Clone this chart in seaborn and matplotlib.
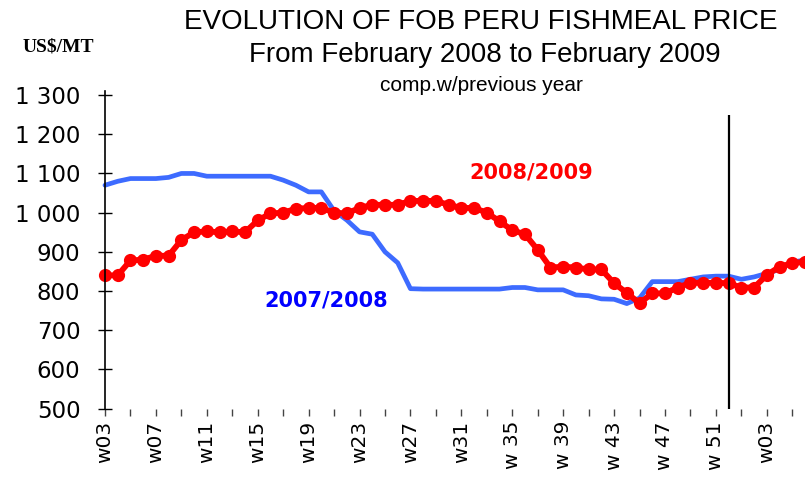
import numpy as np
import pandas as pd
import seaborn as sns
import matplotlib.pyplot as plt

# weekly categories: w03 2008 -> w06 2009
weeks = [f"w{n:02d}" for n in range(3, 53)] + [f"w{n:02d}" for n in range(1, 7)]

price_0809 = [840, 840, 878, 880, 890, 890, 930, 950, 952, 950,
              952, 950, 980, 998, 1000, 1010, 1012, 1012, 1000, 998,
              1012, 1020, 1020, 1020, 1030, 1030, 1030, 1020, 1012, 1012,
              1000, 978, 955, 945, 905, 860, 862, 860, 855, 855,
              820, 795, 769, 794, 794, 809, 821, 821, 821, 820,
              809, 809, 841, 862, 871, 875]

price_0708 = [1070, 1080, 1087, 1087, 1087, 1090, 1100, 1100, 1093, 1093,
              1093, 1093, 1093, 1093, 1083, 1070, 1053, 1053, 1005, 981,
              951, 945, 900, 872, 806, 805, 805, 805, 805, 805,
              805, 805, 809, 809, 803, 803, 803, 790, 788, 780,
              779, 768, 782, 824, 824, 824, 830, 836, 838, 838,
              830, 836, 845, 855, 874, 879]

x_labels = ["w03", "w07", "w11", "w15", "w19", "w23", "w27", "w31",
            "w 35", "w 39", "w 43", "w 47", "w 51", "w03"]
y_ticks = [500, 600, 700, 800, 900, 1000, 1100, 1200, 1300]
y_labels = ["500", "600", "700", "800", "900", "1 000", "1 100", "1 200", "1 300"]

df = pd.DataFrame({"pos": np.arange(len(weeks)), "week": weeks,
                   "2007/2008": price_0708, "2008/2009": price_0809})

sns.set_style("white")
plt.rcParams['font.family'] = ['DejaVu Sans']
plt.rcParams['text.color'] = 'black'
plt.rcParams['xtick.color'] = 'black'
plt.rcParams['ytick.color'] = 'black'

fig = plt.figure(figsize=(8.05, 4.96), dpi=100)
ax = fig.add_axes([0.1304, 0.1762, 0.8696, 0.640])

sns.lineplot(data=df, x="pos", y="2007/2008", color="#3D6BFF", lw=3.4, ax=ax,
             clip_on=False)
sns.lineplot(data=df, x="pos", y="2008/2009", color="#FF0000", lw=4.2, marker="o",
             markersize=9.5, markeredgewidth=0, ax=ax, clip_on=False)

# end of year marker
ax.vlines(weeks.index("w52") + 0.05, 500, 1250, colors="black", lw=1.6)

ax.set_xlim(0, len(weeks) - 1)
ax.set_ylim(500, 1310)
ax.set_xlabel("")
ax.set_ylabel("")

for s in ["top", "right", "bottom"]:
    ax.spines[s].set_visible(False)
ax.spines["left"].set_color("black")
ax.spines["left"].set_linewidth(1.2)

ax.set_yticks(y_ticks, y_labels)
ax.tick_params(axis="y", direction="inout", length=9.5, width=1, color="black",
               labelsize=16.5, labelcolor="black", pad=13, left=True)

ax.set_xticks(np.arange(0, len(weeks), 4), x_labels)
ax.set_xticks(np.arange(2, len(weeks), 4), minor=True)
ax.tick_params(axis="x", which="both", direction="out", length=5, width=1,
               color="#444444", bottom=True)
ax.tick_params(axis="x", which="major", labelsize=14.5, labelcolor="black",
               labelrotation=90, pad=4)

ax.text(33.5, 1103, "2008/2009", color="#FF0000", fontweight="bold", fontsize=15,
        ha="center", va="center")
ax.text(17.4, 777, "2007/2008", color="#0000FF", fontweight="bold", fontsize=15,
        ha="center", va="center")

fig.text(0.5975, 0.9556, "EVOLUTION OF FOB PERU FISHMEAL PRICE", family="Liberation Sans",
         fontsize=20, color="black", ha="center", va="center")
fig.text(0.6025, 0.889, "From February 2008 to February 2009", family="Liberation Sans",
         fontsize=20, color="black", ha="center", va="center")
fig.text(0.5975, 0.8286, "comp.w/previous year", family="Liberation Sans",
         fontsize=15, color="black", ha="center", va="center")
fig.text(0.072, 0.905, "US$/MT", family="Liberation Serif", fontweight="bold",
         fontsize=14, color="black", ha="center", va="center")

fig.savefig("out.png", dpi=100)
